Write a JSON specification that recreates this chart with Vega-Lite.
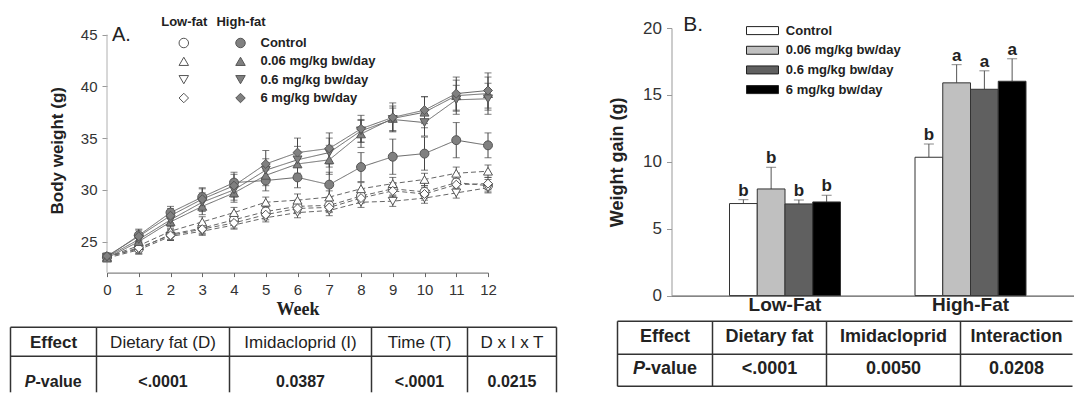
{
"$schema": "https://vega.github.io/schema/vega-lite/v6.json",
"padding": {"left": 9, "top": 13, "right": 0, "bottom": 0},
"bounds": "flush",
"spacing": 183.5,
"config": {"font": "Liberation Sans", "view": {"stroke": null}, "axis": {"grid": false, "labelOverlap": false}},
"resolve": {"scale": {"color": "independent", "fill": "independent", "shape": "independent", "strokeDash": "independent"}},
"datasets": {
 "weights": [
  {"week":0,"diet":"Low-fat","dose":"Control","bw":23.5,"se":0.3},{"week":1,"diet":"Low-fat","dose":"Control","bw":24.3,"se":0.5},{"week":2,"diet":"Low-fat","dose":"Control","bw":25.7,"se":0.5},{"week":3,"diet":"Low-fat","dose":"Control","bw":26.3,"se":0.5},{"week":4,"diet":"Low-fat","dose":"Control","bw":27.1,"se":0.5},{"week":5,"diet":"Low-fat","dose":"Control","bw":27.9,"se":0.5},{"week":6,"diet":"Low-fat","dose":"Control","bw":28.4,"se":0.6},{"week":7,"diet":"Low-fat","dose":"Control","bw":28.5,"se":0.6},{"week":8,"diet":"Low-fat","dose":"Control","bw":29.4,"se":0.6},{"week":9,"diet":"Low-fat","dose":"Control","bw":30.1,"se":0.6},{"week":10,"diet":"Low-fat","dose":"Control","bw":29.8,"se":0.6},{"week":11,"diet":"Low-fat","dose":"Control","bw":30.7,"se":0.6},{"week":12,"diet":"Low-fat","dose":"Control","bw":30.4,"se":0.6},
  {"week":0,"diet":"Low-fat","dose":"0.06 mg/kg bw/day","bw":23.5,"se":0.3},{"week":1,"diet":"Low-fat","dose":"0.06 mg/kg bw/day","bw":24.6,"se":0.5},{"week":2,"diet":"Low-fat","dose":"0.06 mg/kg bw/day","bw":26.0,"se":0.5},{"week":3,"diet":"Low-fat","dose":"0.06 mg/kg bw/day","bw":26.9,"se":0.5},{"week":4,"diet":"Low-fat","dose":"0.06 mg/kg bw/day","bw":27.8,"se":0.5},{"week":5,"diet":"Low-fat","dose":"0.06 mg/kg bw/day","bw":28.8,"se":0.5},{"week":6,"diet":"Low-fat","dose":"0.06 mg/kg bw/day","bw":29.0,"se":0.6},{"week":7,"diet":"Low-fat","dose":"0.06 mg/kg bw/day","bw":29.3,"se":0.6},{"week":8,"diet":"Low-fat","dose":"0.06 mg/kg bw/day","bw":30.1,"se":0.6},{"week":9,"diet":"Low-fat","dose":"0.06 mg/kg bw/day","bw":30.6,"se":0.6},{"week":10,"diet":"Low-fat","dose":"0.06 mg/kg bw/day","bw":31.0,"se":0.6},{"week":11,"diet":"Low-fat","dose":"0.06 mg/kg bw/day","bw":31.6,"se":0.6},{"week":12,"diet":"Low-fat","dose":"0.06 mg/kg bw/day","bw":31.8,"se":0.6},
  {"week":0,"diet":"Low-fat","dose":"0.6 mg/kg bw/day","bw":23.4,"se":0.3},{"week":1,"diet":"Low-fat","dose":"0.6 mg/kg bw/day","bw":24.2,"se":0.4},{"week":2,"diet":"Low-fat","dose":"0.6 mg/kg bw/day","bw":25.5,"se":0.4},{"week":3,"diet":"Low-fat","dose":"0.6 mg/kg bw/day","bw":26.0,"se":0.4},{"week":4,"diet":"Low-fat","dose":"0.6 mg/kg bw/day","bw":26.6,"se":0.4},{"week":5,"diet":"Low-fat","dose":"0.6 mg/kg bw/day","bw":27.3,"se":0.4},{"week":6,"diet":"Low-fat","dose":"0.6 mg/kg bw/day","bw":27.8,"se":0.5},{"week":7,"diet":"Low-fat","dose":"0.6 mg/kg bw/day","bw":28.0,"se":0.5},{"week":8,"diet":"Low-fat","dose":"0.6 mg/kg bw/day","bw":28.8,"se":0.5},{"week":9,"diet":"Low-fat","dose":"0.6 mg/kg bw/day","bw":28.9,"se":0.5},{"week":10,"diet":"Low-fat","dose":"0.6 mg/kg bw/day","bw":29.2,"se":0.5},{"week":11,"diet":"Low-fat","dose":"0.6 mg/kg bw/day","bw":29.7,"se":0.5},{"week":12,"diet":"Low-fat","dose":"0.6 mg/kg bw/day","bw":30.2,"se":0.5},
  {"week":0,"diet":"Low-fat","dose":"6 mg/kg bw/day","bw":23.5,"se":0.3},{"week":1,"diet":"Low-fat","dose":"6 mg/kg bw/day","bw":24.4,"se":0.5},{"week":2,"diet":"Low-fat","dose":"6 mg/kg bw/day","bw":25.6,"se":0.5},{"week":3,"diet":"Low-fat","dose":"6 mg/kg bw/day","bw":26.2,"se":0.5},{"week":4,"diet":"Low-fat","dose":"6 mg/kg bw/day","bw":26.8,"se":0.5},{"week":5,"diet":"Low-fat","dose":"6 mg/kg bw/day","bw":27.6,"se":0.5},{"week":6,"diet":"Low-fat","dose":"6 mg/kg bw/day","bw":28.2,"se":0.5},{"week":7,"diet":"Low-fat","dose":"6 mg/kg bw/day","bw":28.3,"se":0.5},{"week":8,"diet":"Low-fat","dose":"6 mg/kg bw/day","bw":29.2,"se":0.5},{"week":9,"diet":"Low-fat","dose":"6 mg/kg bw/day","bw":29.9,"se":0.6},{"week":10,"diet":"Low-fat","dose":"6 mg/kg bw/day","bw":29.6,"se":0.6},{"week":11,"diet":"Low-fat","dose":"6 mg/kg bw/day","bw":30.5,"se":0.6},{"week":12,"diet":"Low-fat","dose":"6 mg/kg bw/day","bw":30.6,"se":0.6},
  {"week":0,"diet":"High-fat","dose":"Control","bw":23.5,"se":0.3},{"week":1,"diet":"High-fat","dose":"Control","bw":25.6,"se":0.6},{"week":2,"diet":"High-fat","dose":"Control","bw":27.8,"se":0.6},{"week":3,"diet":"High-fat","dose":"Control","bw":29.3,"se":0.9},{"week":4,"diet":"High-fat","dose":"Control","bw":30.7,"se":1.0},{"week":5,"diet":"High-fat","dose":"Control","bw":30.9,"se":1.0},{"week":6,"diet":"High-fat","dose":"Control","bw":31.2,"se":1.0},{"week":7,"diet":"High-fat","dose":"Control","bw":30.5,"se":1.2},{"week":8,"diet":"High-fat","dose":"Control","bw":32.2,"se":1.4},{"week":9,"diet":"High-fat","dose":"Control","bw":33.2,"se":1.7},{"week":10,"diet":"High-fat","dose":"Control","bw":33.5,"se":1.6},{"week":11,"diet":"High-fat","dose":"Control","bw":34.8,"se":1.7},{"week":12,"diet":"High-fat","dose":"Control","bw":34.3,"se":1.2},
  {"week":0,"diet":"High-fat","dose":"0.06 mg/kg bw/day","bw":23.4,"se":0.3},{"week":1,"diet":"High-fat","dose":"0.06 mg/kg bw/day","bw":25.0,"se":0.5},{"week":2,"diet":"High-fat","dose":"0.06 mg/kg bw/day","bw":26.9,"se":0.6},{"week":3,"diet":"High-fat","dose":"0.06 mg/kg bw/day","bw":28.4,"se":0.8},{"week":4,"diet":"High-fat","dose":"0.06 mg/kg bw/day","bw":29.7,"se":0.9},{"week":5,"diet":"High-fat","dose":"0.06 mg/kg bw/day","bw":31.4,"se":1.0},{"week":6,"diet":"High-fat","dose":"0.06 mg/kg bw/day","bw":32.5,"se":1.2},{"week":7,"diet":"High-fat","dose":"0.06 mg/kg bw/day","bw":32.9,"se":1.4},{"week":8,"diet":"High-fat","dose":"0.06 mg/kg bw/day","bw":35.4,"se":1.3},{"week":9,"diet":"High-fat","dose":"0.06 mg/kg bw/day","bw":36.9,"se":1.2},{"week":10,"diet":"High-fat","dose":"0.06 mg/kg bw/day","bw":37.5,"se":1.5},{"week":11,"diet":"High-fat","dose":"0.06 mg/kg bw/day","bw":39.1,"se":1.5},{"week":12,"diet":"High-fat","dose":"0.06 mg/kg bw/day","bw":39.3,"se":1.6},
  {"week":0,"diet":"High-fat","dose":"0.6 mg/kg bw/day","bw":23.5,"se":0.3},{"week":1,"diet":"High-fat","dose":"0.6 mg/kg bw/day","bw":25.2,"se":0.5},{"week":2,"diet":"High-fat","dose":"0.6 mg/kg bw/day","bw":27.1,"se":0.6},{"week":3,"diet":"High-fat","dose":"0.6 mg/kg bw/day","bw":28.8,"se":0.9},{"week":4,"diet":"High-fat","dose":"0.6 mg/kg bw/day","bw":30.0,"se":1.0},{"week":5,"diet":"High-fat","dose":"0.6 mg/kg bw/day","bw":31.9,"se":1.1},{"week":6,"diet":"High-fat","dose":"0.6 mg/kg bw/day","bw":32.9,"se":1.3},{"week":7,"diet":"High-fat","dose":"0.6 mg/kg bw/day","bw":33.6,"se":1.4},{"week":8,"diet":"High-fat","dose":"0.6 mg/kg bw/day","bw":35.7,"se":1.1},{"week":9,"diet":"High-fat","dose":"0.6 mg/kg bw/day","bw":36.8,"se":1.1},{"week":10,"diet":"High-fat","dose":"0.6 mg/kg bw/day","bw":36.5,"se":1.3},{"week":11,"diet":"High-fat","dose":"0.6 mg/kg bw/day","bw":38.7,"se":1.4},{"week":12,"diet":"High-fat","dose":"0.6 mg/kg bw/day","bw":38.8,"se":1.5},
  {"week":0,"diet":"High-fat","dose":"6 mg/kg bw/day","bw":23.6,"se":0.3},{"week":1,"diet":"High-fat","dose":"6 mg/kg bw/day","bw":25.5,"se":0.6},{"week":2,"diet":"High-fat","dose":"6 mg/kg bw/day","bw":27.5,"se":0.7},{"week":3,"diet":"High-fat","dose":"6 mg/kg bw/day","bw":29.1,"se":1.0},{"week":4,"diet":"High-fat","dose":"6 mg/kg bw/day","bw":30.4,"se":1.1},{"week":5,"diet":"High-fat","dose":"6 mg/kg bw/day","bw":32.5,"se":1.3},{"week":6,"diet":"High-fat","dose":"6 mg/kg bw/day","bw":33.6,"se":1.4},{"week":7,"diet":"High-fat","dose":"6 mg/kg bw/day","bw":34.0,"se":1.5},{"week":8,"diet":"High-fat","dose":"6 mg/kg bw/day","bw":35.9,"se":1.3},{"week":9,"diet":"High-fat","dose":"6 mg/kg bw/day","bw":37.0,"se":1.4},{"week":10,"diet":"High-fat","dose":"6 mg/kg bw/day","bw":37.7,"se":1.3},{"week":11,"diet":"High-fat","dose":"6 mg/kg bw/day","bw":39.3,"se":1.6},{"week":12,"diet":"High-fat","dose":"6 mg/kg bw/day","bw":39.6,"se":1.7}
 ],
 "legendA": [
  {"diet":"Low-fat","dose":"Control"},{"diet":"Low-fat","dose":"0.06 mg/kg bw/day"},{"diet":"Low-fat","dose":"0.6 mg/kg bw/day"},{"diet":"Low-fat","dose":"6 mg/kg bw/day"},
  {"diet":"High-fat","dose":"Control"},{"diet":"High-fat","dose":"0.06 mg/kg bw/day"},{"diet":"High-fat","dose":"0.6 mg/kg bw/day"},{"diet":"High-fat","dose":"6 mg/kg bw/day"}
 ],
 "tableA": [
  {"row":0,"col":0,"label":"Effect"},{"row":0,"col":1,"label":"Dietary fat (D)"},{"row":0,"col":2,"label":"Imidacloprid (I)"},{"row":0,"col":3,"label":"Time (T)"},{"row":0,"col":4,"label":"D x I x T"},
  {"row":1,"col":1,"label":"<.0001"},{"row":1,"col":2,"label":"0.0387"},{"row":1,"col":3,"label":"<.0001"},{"row":1,"col":4,"label":"0.0215"}
 ],
 "gain": [
  {"diet":"Low-Fat","dose":"Control","gain":6.88,"upper":7.17,"letter":"b"},
  {"diet":"Low-Fat","dose":"0.06 mg/kg bw/day","gain":7.97,"upper":9.59,"letter":"b"},
  {"diet":"Low-Fat","dose":"0.6 mg/kg bw/day","gain":6.85,"upper":7.15,"letter":"b"},
  {"diet":"Low-Fat","dose":"6 mg/kg bw/day","gain":7.0,"upper":7.5,"letter":"b"},
  {"diet":"High-Fat","dose":"Control","gain":10.34,"upper":11.33,"letter":"b"},
  {"diet":"High-Fat","dose":"0.06 mg/kg bw/day","gain":15.9,"upper":17.26,"letter":"a"},
  {"diet":"High-Fat","dose":"0.6 mg/kg bw/day","gain":15.42,"upper":16.8,"letter":"a"},
  {"diet":"High-Fat","dose":"6 mg/kg bw/day","gain":16.02,"upper":17.7,"letter":"a"}
 ],
 "legendB": [
  {"dose":"Control"},{"dose":"0.06 mg/kg bw/day"},{"dose":"0.6 mg/kg bw/day"},{"dose":"6 mg/kg bw/day"}
 ],
 "tableB": [
  {"row":0,"col":0,"label":"Effect"},{"row":0,"col":1,"label":"Dietary fat"},{"row":0,"col":2,"label":"Imidacloprid"},{"row":0,"col":3,"label":"Interaction"},
  {"row":1,"col":1,"label":"<.0001"},{"row":1,"col":2,"label":"0.0050"},{"row":1,"col":3,"label":"0.0208"}
 ]
},
"hconcat": [
 {
  "width": 381, "height": 244.6,
  "resolve": {"scale": {"x": "independent", "y": "independent"}},
  "layer": [
   {
    "data": {"name": "weights"},
    "layer": [
     {"mark": {"type": "line", "color": "#666666", "strokeWidth": 1},
      "encoding": {
       "x": {"field": "week", "type": "quantitative", "title": "Week", "scale": {"domain": [0, 12], "nice": false, "zero": false},
             "axis": {"orient": "bottom", "values": [0,1,2,3,4,5,6,7,8,9,10,11,12], "tickCount": 13, "format": "d", "labelOverlap": false, "titleFont": "Liberation Serif", "titleFontSize": 18, "titleFontWeight": "bold", "titleColor": "#222", "titlePadding": 3, "labelFontSize": 15, "labelColor": "#333", "labelPadding": 6, "tickSize": 4, "tickColor": "#666", "domainColor": "#666", "labelFlush": false}},
       "y": {"field": "bw", "type": "quantitative", "title": "Body weight (g)", "scale": {"domain": [22, 45.64], "nice": false, "zero": false},
             "axis": {"orient": "left", "values": [25,30,35,40,45], "labelOverlap": false, "titleFontSize": 17, "titleFontWeight": "bold", "titleColor": "#222", "titlePadding": 14, "labelFontSize": 15, "labelColor": "#333", "labelPadding": 5, "tickSize": 5, "tickColor": "#999", "domain": false}},
       "detail": {"field": "dose", "type": "nominal"},
       "strokeDash": {"field": "diet", "type": "nominal", "scale": {"domain": ["Low-fat", "High-fat"], "range": [[5, 3], [1, 0]]}, "legend": null}
      }},
     {"data": {"values": [{}]}, "mark": {"type": "rule", "color": "#b0b0b0", "strokeWidth": 1},
      "encoding": {"x": {"datum": 0, "type": "quantitative"}, "y": {"datum": 22, "type": "quantitative"}, "y2": {"datum": 45}}},
     {"mark": {"type": "errorbar", "color": "#444444", "ticks": {"size": 7, "color": "#444444"}},
      "encoding": {"x": {"field": "week", "type": "quantitative", "title": "Week"}, "y": {"field": "bw", "type": "quantitative", "title": "Body weight (g)"}, "yError": {"field": "se"}}},
     {"mark": {"type": "point", "filled": true, "size": 80, "stroke": "#555555", "strokeWidth": 1, "opacity": 1},
      "encoding": {
       "x": {"field": "week", "type": "quantitative", "title": "Week"},
       "y": {"field": "bw", "type": "quantitative", "title": "Body weight (g)"},
       "shape": {"field": "dose", "type": "nominal", "scale": {"domain": ["Control", "0.06 mg/kg bw/day", "0.6 mg/kg bw/day", "6 mg/kg bw/day"], "range": ["circle", "triangle-up", "triangle-down", "diamond"]}, "legend": null},
       "fill": {"field": "diet", "type": "nominal", "scale": {"domain": ["Low-fat", "High-fat"], "range": ["#ffffff", "#808080"]}, "legend": null}
      }},
     {"data": {"values": [{"label": "A."}]}, "mark": {"type": "text", "align": "left", "baseline": "middle", "dx": 5, "fontSize": 20, "color": "#222"},
      "encoding": {"x": {"datum": 0, "type": "quantitative"}, "y": {"datum": 45, "type": "quantitative"}, "text": {"field": "label", "type": "nominal"}}}
    ]
   },
   {
    "data": {"name": "legendA"},
    "layer": [
     {"mark": {"type": "point", "filled": true, "size": 90, "stroke": "#555555", "strokeWidth": 1, "opacity": 1},
      "encoding": {
       "x": {"field": "diet", "type": "nominal", "scale": {"type": "point", "domain": ["Low-fat", "High-fat"], "range": [76.8, 133.5], "padding": 0},
             "axis": {"orient": "top", "title": null, "domain": false, "ticks": false, "tickSize": 0, "labelPadding": 0, "labelFontSize": 13, "labelFontWeight": "bold", "labelColor": "#222", "labelAngle": 0, "labelAlign": "center"}},
       "y": {"field": "dose", "type": "nominal", "scale": {"type": "point", "domain": ["Control", "0.06 mg/kg bw/day", "0.6 mg/kg bw/day", "6 mg/kg bw/day"], "range": [15, 70], "padding": 0}, "axis": null},
       "shape": {"field": "dose", "type": "nominal", "legend": null},
       "fill": {"field": "diet", "type": "nominal", "legend": null}
      }},
     {"transform": [{"filter": "datum.diet == 'High-fat'"}],
      "mark": {"type": "text", "align": "left", "baseline": "middle", "dx": 20, "fontSize": 13, "fontWeight": "bold", "color": "#222"},
      "encoding": {"x": {"field": "diet", "type": "nominal"}, "y": {"field": "dose", "type": "nominal"}, "text": {"field": "dose", "type": "nominal"}}}
    ]
   },
   {
    "layer": [
     {"data": {"name": "tableA"}, "transform": [{"filter": "datum.row == 0 && datum.col > 0"}],
      "mark": {"type": "text", "align": "center", "baseline": "middle", "fontSize": 17, "color": "#222"},
      "encoding": {
       "x": {"field": "col", "type": "quantitative", "scale": {"domain": [-0.5, 0.5, 1.5, 2.5, 3.5, 4.5], "range": [-96.5, -10.5, 122.5, 264.5, 360.5, 449.5], "nice": false, "zero": false}, "axis": null},
       "y": {"field": "row", "type": "quantitative", "scale": {"domain": [-0.5, 0, 0.5, 1, 1.5], "range": [299.3, 315.3, 328.3, 354.3, 364.3], "nice": false, "zero": false}, "axis": null},
       "text": {"field": "label", "type": "nominal"}
      }},
     {"data": {"name": "tableA"}, "transform": [{"filter": "datum.row == 1 || datum.col == 0"}],
      "mark": {"type": "text", "align": "center", "baseline": "middle", "fontWeight": "bold", "color": "#222"},
      "encoding": {
       "x": {"field": "col", "type": "quantitative"},
       "y": {"field": "row", "type": "quantitative"},
       "text": {"field": "label", "type": "nominal"},
       "size": {"condition": {"test": "datum.row == 0", "value": 17}, "value": 16}
      }},
     {"data": {"values": [{"label": "P"}]}, "mark": {"type": "text", "align": "right", "baseline": "middle", "dx": -18, "fontSize": 16, "fontWeight": "bold", "fontStyle": "italic", "color": "#222"},
      "encoding": {"x": {"datum": 0, "type": "quantitative"}, "y": {"datum": 1, "type": "quantitative"}, "text": {"field": "label", "type": "nominal"}}},
     {"data": {"values": [{"label": "-value"}]}, "mark": {"type": "text", "align": "left", "baseline": "middle", "dx": -18, "fontSize": 16, "fontWeight": "bold", "color": "#222"},
      "encoding": {"x": {"datum": 0, "type": "quantitative"}, "y": {"datum": 1, "type": "quantitative"}, "text": {"field": "label", "type": "nominal"}}},
     {"data": {"values": [{}]}, "mark": {"type": "rule", "color": "#333", "strokeWidth": 1.5}, "encoding": {"x": {"datum": -0.5}, "y": {"datum": -0.5}, "y2": {"datum": 1.5}}},
     {"data": {"values": [{}]}, "mark": {"type": "rule", "color": "#333", "strokeWidth": 1.5}, "encoding": {"x": {"datum": 0.5}, "y": {"datum": -0.5}, "y2": {"datum": 1.5}}},
     {"data": {"values": [{}]}, "mark": {"type": "rule", "color": "#333", "strokeWidth": 1.5}, "encoding": {"x": {"datum": 1.5}, "y": {"datum": -0.5}, "y2": {"datum": 1.5}}},
     {"data": {"values": [{}]}, "mark": {"type": "rule", "color": "#333", "strokeWidth": 1.5}, "encoding": {"x": {"datum": 2.5}, "y": {"datum": -0.5}, "y2": {"datum": 1.5}}},
     {"data": {"values": [{}]}, "mark": {"type": "rule", "color": "#333", "strokeWidth": 1.5}, "encoding": {"x": {"datum": 3.5}, "y": {"datum": -0.5}, "y2": {"datum": 1.5}}},
     {"data": {"values": [{}]}, "mark": {"type": "rule", "color": "#333", "strokeWidth": 1.5}, "encoding": {"x": {"datum": 4.5}, "y": {"datum": -0.5}, "y2": {"datum": 1.5}}},
     {"data": {"values": [{}]}, "mark": {"type": "rule", "color": "#333", "strokeWidth": 1.5}, "encoding": {"x": {"datum": -0.5}, "x2": {"datum": 4.5}, "y": {"datum": -0.5}}},
     {"data": {"values": [{}]}, "mark": {"type": "rule", "color": "#333", "strokeWidth": 1.5}, "encoding": {"x": {"datum": -0.5}, "x2": {"datum": 4.5}, "y": {"datum": 0.5}}}
    ]
   }
  ]
 },
 {
  "width": 402, "height": 267.6,
  "resolve": {"scale": {"x": "independent", "y": "independent"}},
  "layer": [
   {
    "data": {"name": "gain"},
    "layer": [
     {"mark": {"type": "rule", "color": "#555555", "strokeWidth": 1},
      "encoding": {
       "x": {"field": "diet", "type": "nominal", "title": null},
       "xOffset": {"field": "dose", "type": "nominal"},
       "y": {"field": "gain", "type": "quantitative", "title": "Weight gain (g)"},
       "y2": {"field": "upper"}
      }},
     {"mark": {"type": "tick", "color": "#555555", "size": 10, "thickness": 1},
      "encoding": {
       "x": {"field": "diet", "type": "nominal", "title": null},
       "xOffset": {"field": "dose", "type": "nominal"},
       "y": {"field": "upper", "type": "quantitative", "title": "Weight gain (g)"}
      }},
     {"mark": {"type": "bar", "stroke": "#333333", "strokeWidth": 1},
      "encoding": {
       "x": {"field": "diet", "type": "nominal", "title": null, "scale": {"domain": ["Low-Fat", "High-Fat"], "paddingInner": 0.4016, "paddingOuter": 0.2844, "align": 0.5498},
             "axis": {"labelAngle": 0, "labelAlign": "center", "labelFontSize": 19, "labelFontWeight": "bold", "labelColor": "#222", "ticks": false, "tickSize": 0, "labelPadding": 9, "domainColor": "#333"}},
       "xOffset": {"field": "dose", "type": "nominal", "scale": {"domain": ["Control", "0.06 mg/kg bw/day", "0.6 mg/kg bw/day", "6 mg/kg bw/day"], "paddingInner": 0, "paddingOuter": 0}},
       "y": {"field": "gain", "type": "quantitative", "title": "Weight gain (g)", "scale": {"domain": [0, 20], "nice": false},
             "axis": {"values": [0, 5, 10, 15, 20], "titleFontSize": 18, "titleFontWeight": "bold", "titleColor": "#222", "titlePadding": 16, "labelFontSize": 17, "labelColor": "#333", "labelPadding": 5, "tickSize": 5, "tickColor": "#999", "domainColor": "#999"}},
       "color": {"field": "dose", "type": "nominal", "scale": {"domain": ["Control", "0.06 mg/kg bw/day", "0.6 mg/kg bw/day", "6 mg/kg bw/day"], "range": ["#ffffff", "#c0c0c0", "#606060", "#000000"]}, "legend": null}
      }},
     {"mark": {"type": "text", "baseline": "alphabetic", "dy": -4, "fontSize": 17, "fontWeight": "bold", "color": "#222"},
      "encoding": {
       "x": {"field": "diet", "type": "nominal", "title": null},
       "xOffset": {"field": "dose", "type": "nominal"},
       "y": {"field": "upper", "type": "quantitative", "title": "Weight gain (g)"},
       "text": {"field": "letter", "type": "nominal"}
      }},
     {"data": {"values": [{"label": "B."}]}, "mark": {"type": "text", "align": "left", "baseline": "middle", "dx": -101.8, "fontSize": 21, "color": "#222"},
      "encoding": {"x": {"datum": "Low-Fat", "type": "nominal"}, "y": {"datum": 20.25, "type": "quantitative"}, "text": {"field": "label", "type": "nominal"}}}
    ]
   },
   {
    "data": {"name": "legendB"},
    "layer": [
     {"mark": {"type": "point", "shape": "M-1,-0.25H1V0.25H-1Z", "size": 1024, "filled": true, "stroke": "#222222", "strokeWidth": 1, "opacity": 1},
      "encoding": {
       "x": {"datum": 0, "type": "quantitative", "scale": {"domain": [0, 1], "range": [91, 191]}, "axis": null},
       "y": {"field": "dose", "type": "nominal", "scale": {"type": "point", "domain": ["Control", "0.06 mg/kg bw/day", "0.6 mg/kg bw/day", "6 mg/kg bw/day"], "range": [2.6, 61.6], "padding": 0}, "axis": null},
       "color": {"field": "dose", "type": "nominal", "legend": null}
      }},
     {"mark": {"type": "text", "align": "left", "baseline": "middle", "dx": 23.3, "fontSize": 13, "fontWeight": "bold", "color": "#222"},
      "encoding": {"x": {"datum": 0, "type": "quantitative"}, "y": {"field": "dose", "type": "nominal"}, "text": {"field": "dose", "type": "nominal"}}}
    ]
   },
   {
    "layer": [
     {"data": {"name": "tableB"},
      "mark": {"type": "text", "align": "center", "baseline": "middle", "fontSize": 18, "fontWeight": "bold", "color": "#222"},
      "encoding": {
       "x": {"field": "col", "type": "quantitative", "scale": {"domain": [-0.5, 0.5, 1.5, 2.5, 3.5], "range": [-54, 41, 155, 289, 401], "nice": false, "zero": false}, "axis": null},
       "y": {"field": "row", "type": "quantitative", "scale": {"domain": [-0.5, 0, 0.5, 1, 1.5], "range": [293.3, 309.3, 326.3, 341.3, 358.3], "nice": false, "zero": false}, "axis": null},
       "text": {"field": "label", "type": "nominal"}
      }},
     {"data": {"values": [{"label": "P"}]}, "mark": {"type": "text", "align": "right", "baseline": "middle", "dx": -20, "fontSize": 18, "fontWeight": "bold", "fontStyle": "italic", "color": "#222"},
      "encoding": {"x": {"datum": 0, "type": "quantitative"}, "y": {"datum": 1, "type": "quantitative"}, "text": {"field": "label", "type": "nominal"}}},
     {"data": {"values": [{"label": "-value"}]}, "mark": {"type": "text", "align": "left", "baseline": "middle", "dx": -20, "fontSize": 18, "fontWeight": "bold", "color": "#222"},
      "encoding": {"x": {"datum": 0, "type": "quantitative"}, "y": {"datum": 1, "type": "quantitative"}, "text": {"field": "label", "type": "nominal"}}},
     {"data": {"values": [{}]}, "mark": {"type": "rule", "color": "#333", "strokeWidth": 1.5}, "encoding": {"x": {"datum": -0.5}, "y": {"datum": -0.5}, "y2": {"datum": 1.5}}},
     {"data": {"values": [{}]}, "mark": {"type": "rule", "color": "#333", "strokeWidth": 1.5}, "encoding": {"x": {"datum": 0.5}, "y": {"datum": -0.5}, "y2": {"datum": 1.5}}},
     {"data": {"values": [{}]}, "mark": {"type": "rule", "color": "#333", "strokeWidth": 1.5}, "encoding": {"x": {"datum": 1.5}, "y": {"datum": -0.5}, "y2": {"datum": 1.5}}},
     {"data": {"values": [{}]}, "mark": {"type": "rule", "color": "#333", "strokeWidth": 1.5}, "encoding": {"x": {"datum": 2.5}, "y": {"datum": -0.5}, "y2": {"datum": 1.5}}},
     {"data": {"values": [{}]}, "mark": {"type": "rule", "color": "#333", "strokeWidth": 1.5}, "encoding": {"x": {"datum": -0.5}, "x2": {"datum": 3.5}, "y": {"datum": -0.5}}},
     {"data": {"values": [{}]}, "mark": {"type": "rule", "color": "#333", "strokeWidth": 1.5}, "encoding": {"x": {"datum": -0.5}, "x2": {"datum": 3.5}, "y": {"datum": 0.5}}},
     {"data": {"values": [{}]}, "mark": {"type": "rule", "color": "#333", "strokeWidth": 1.5}, "encoding": {"x": {"datum": -0.5}, "x2": {"datum": 3.5}, "y": {"datum": 1.5}}}
    ]
   }
  ]
 }
]
}
